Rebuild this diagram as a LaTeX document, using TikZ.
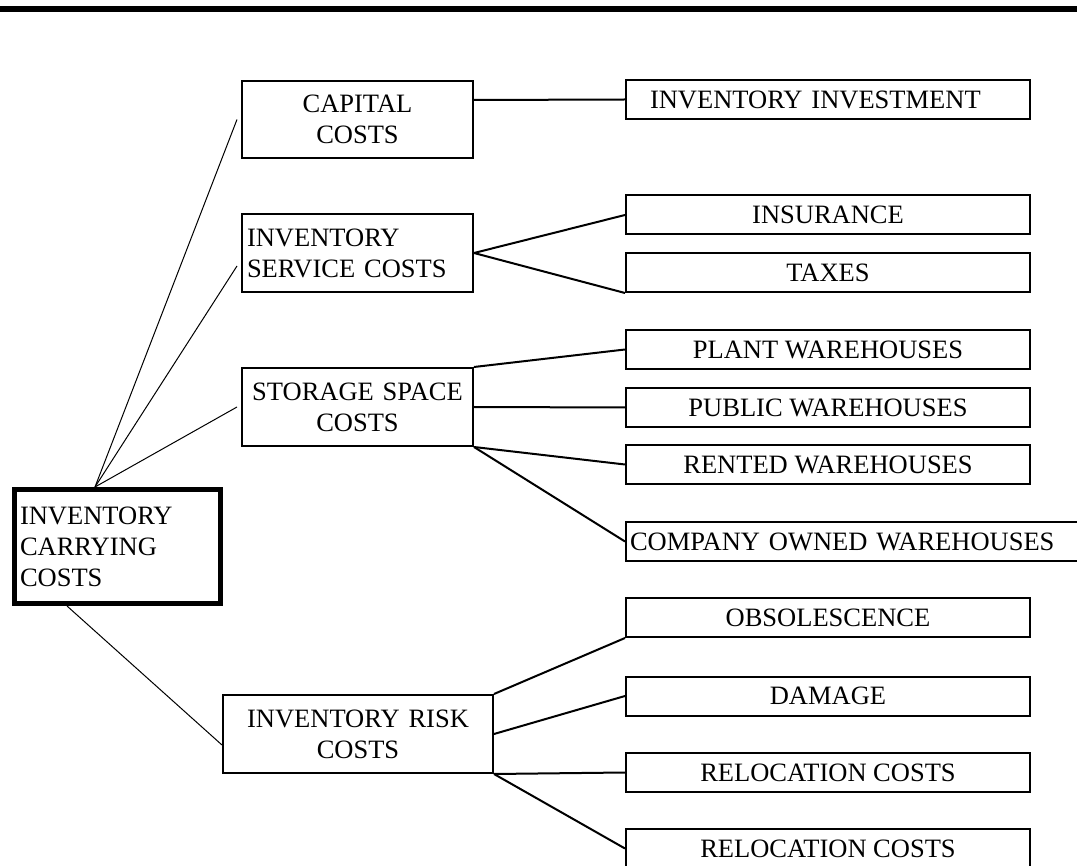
\documentclass[tikz,border=0pt]{standalone}
\usepackage{fontspec}
\setmainfont{Liberation Serif}
\usetikzlibrary{positioning}

\begin{document}
\begin{tikzpicture}
			[x=1pt,y=-1pt,node distance=57.5pt,on grid,
			every node/.style={font=\fontsize{26.5pt}{31pt}\selectfont},
			rootbox/.style={rectangle,draw,line width=5pt,inner sep=0pt,inner xsep=6pt,
				text width=194pt,minimum width=206pt,minimum height=114pt,align=left},
			costbox/.style={rectangle,draw,line width=2pt,inner sep=0pt,inner xsep=5pt,
				text width=221pt,minimum width=231pt,minimum height=78pt,align=center},
			itembox/.style={rectangle,draw,line width=2pt,inner sep=0pt,
				minimum width=404pt,minimum height=39pt,align=center},
			thinlink/.style={line width=1pt},
			link/.style={line width=2pt}]

			\useasboundingbox (0,0) rectangle (1077,866);
			\fill (0,6) rectangle (1077,12);

			% main box and the four cost groups
			\node [rootbox](icc) at (117,546.5) {INVENTORY\\CARRYING\\COSTS};
			\node [costbox,minimum height=77pt](cap) at (357.5,119.5) {CAPITAL\\COSTS};
			\node [costbox,align=left](serv) at (357.5,253) {INVENTORY\\SERVICE COSTS};
			\node [costbox](stor) at (357.5,407) {STORAGE SPACE\\COSTS};
			\node [costbox,text width=260pt,minimum width=270pt](risk) at (358,734) {INVENTORY RISK\\COSTS};

			% items on the right
			\node [itembox,align=left,inner xsep=24pt,text width=356pt](invest) at (828,99.5) {INVENTORY INVESTMENT};
			\node [itembox](ins) at (828,215) {INSURANCE};
				\node [itembox](tax) [below=of ins] {TAXES};
			\node [itembox](plant) at (828,349.5) {PLANT WAREHOUSES};
				\node [itembox](pub) [below=58pt of plant] {PUBLIC WAREHOUSES};
				\node [itembox](rent) [below=57pt of pub] {RENTED WAREHOUSES};
			\node [itembox,minimum width=452pt,align=left,inner xsep=4pt,text width=444pt](comp) at (852,541.5) {COMPANY OWNED WAREHOUSES};
			\node [itembox](obs) at (828,617.5) {OBSOLESCENCE};
				\node [itembox](dam) [below=78.5pt of obs] {DAMAGE};
				\node [itembox](reloc) [below=76.5pt of dam] {RELOCATION COSTS};
				\node [itembox](relocb) [below=76pt of reloc] {RELOCATION COSTS};

			% links from the main box
			\draw [thinlink] ([xshift=-22pt]icc.north) -- ([xshift=-4pt]cap.west);
			\draw [thinlink] ([xshift=-22pt]icc.north) -- ([shift={(-4pt,-13pt)}]serv.west);
			\draw [thinlink] ([xshift=-22pt]icc.north) -- ([xshift=-4pt]stor.west);
			\draw [thinlink] ([xshift=-50pt]icc.south) -- ([yshift=-11pt]risk.west);

			% links to the items
			\draw [link] ([yshift=19.5pt]cap.east) -- (invest.west);
			\draw [link] (serv.east) -- (ins.west);
			\draw [link] (serv.east) -- (tax.south west);
			\draw [link] (stor.north east) -- (plant.west);
			\draw [link] (stor.east) -- (pub.west);
			\draw [link] (stor.south east) -- (rent.west);
			\draw [link] (stor.south east) -- (comp.west);
			\draw [link] (risk.north east) -- (obs.south west);
			\draw [link] (risk.east) -- (dam.west);
			\draw [link] (risk.south east) -- (reloc.west);
			\draw [link] (risk.south east) -- (relocb.west);
\end{tikzpicture}
\end{document}
